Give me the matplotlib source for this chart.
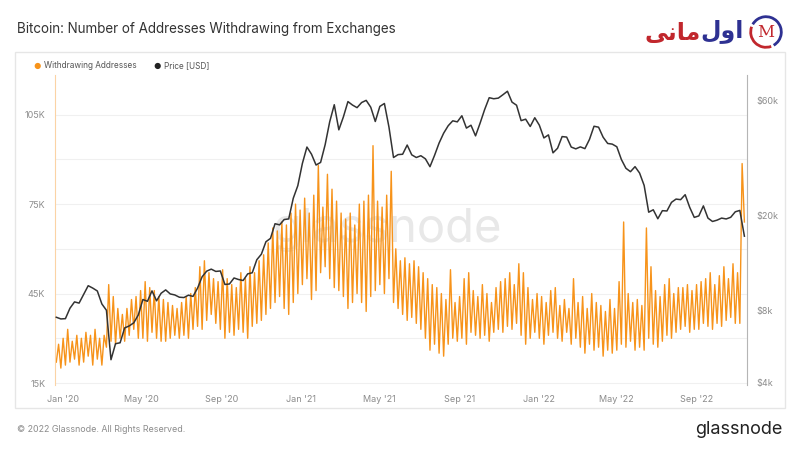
import matplotlib
matplotlib.use("Agg")
import matplotlib.pyplot as plt
import matplotlib.dates as mdates
import matplotlib.patches as patches
import numpy as np
import pandas as pd

# withdrawing addresses, in thousands: Sunday troughs and mid-week peaks
lows = [
    22, 20, 21, 22, 23, 21, 22, 24, 21, 23, 21, 27, 29, 28, 30, 29, 31, 33, 30,
    30, 29, 32, 30, 29, 29, 30, 31, 30, 31, 30, 33, 34, 33, 36, 38, 35, 33,
    30, 32, 31, 33, 32, 30, 34, 35, 36, 38, 40, 42, 44, 40, 38, 42, 45,
    48, 50, 43, 46, 52, 54, 50, 47, 46, 44, 40, 42, 45, 42, 39, 44, 46,
    48, 45, 50, 42, 40, 38, 36, 37, 35, 33, 30, 26, 28, 25, 24, 28, 30, 29,
    30, 28, 32, 31, 30, 31, 29, 32, 33, 32, 34, 33, 35, 31, 28, 30, 32,
    30, 28, 31, 32, 30, 29, 32, 28, 30, 27, 25, 28, 26, 27, 24, 26, 25,
    26, 28, 27, 29, 26, 27, 26, 30, 28, 27, 29, 31, 30, 32, 33, 34, 32, 33,
    33, 35, 34, 33, 35, 34, 36, 37, 35, 35, 69,
]
highs = [
    28, 30, 33, 29, 31, 30, 32, 31, 33, 30, 31, 48, 44, 40, 38, 40, 43, 44, 46,
    49, 47, 46, 44, 43, 42, 41, 40, 42, 44, 45, 47, 54, 56, 52, 50, 49, 53,
    50, 48, 47, 52, 50, 54, 52, 56, 58, 62, 67, 66, 69, 68, 72, 75, 73,
    77, 72, 78, 88, 74, 85, 80, 76, 72, 70, 72, 68, 75, 76, 78, 94.6, 76,
    74, 78, 86, 60, 56, 57, 55, 56, 54, 52, 50, 48, 47, 45, 43, 53, 42, 44,
    50, 52, 46, 44, 48, 45, 42, 47, 49, 50, 52, 48, 55, 52, 47, 43, 45,
    44, 42, 46, 47, 41, 43, 40, 50, 42, 44, 40, 45, 42, 41, 39, 43, 40,
    49, 69, 45, 42, 43, 41, 67, 54, 46, 44, 48, 50, 45, 47, 47, 48, 46, 48,
    49, 50, 52, 48, 51, 54, 50, 55, 52, 88.6,
]

# weekly BTC price (USD), Sundays from 2019-12-22
price = [
    7510, 7390,
    7410, 8190, 8700, 8600, 9340, 10160, 9930, 9660, 8530, 8030, 5000, 5830,
    5880, 6780, 6910, 7120, 7680, 8900, 8750, 9670, 8790, 9450, 9760, 9390,
    9300, 9100, 9070, 9280, 9170, 9930, 11070, 11680, 11910, 11650, 11700,
    10280, 10330, 10940, 10780, 10680, 11380, 11500, 13030, 13740, 15480,
    15990, 18400, 18200, 19150, 19270, 23480, 26500,
    32780, 38360, 35830, 32290, 33110, 39260, 48900, 57540, 45240, 51200,
    59300, 57350, 55950, 58760, 60000, 56200, 49000, 56620, 58230, 46450,
    34700, 35680, 35800, 39100, 35600, 34700, 35300, 34260, 31780, 35400,
    39850, 43800, 47050, 49320, 48830, 51770, 46000, 47280, 42700, 48230,
    54960, 61540, 60930, 61300, 63300, 65470, 59000, 57270, 49400, 50100,
    46700, 50800,
    47300, 41860, 43100, 36280, 37920, 42410, 42200, 38350, 37700, 38420,
    37780, 41260, 46820, 46400, 42150, 39700, 39450, 38470, 34060, 31300,
    30290, 31790, 29900, 26560, 20550, 21030, 19300, 20850, 20790, 22580,
    23300, 23170, 24300, 21520, 19550, 19830, 21830, 19420, 18800, 19040,
    19420, 19260, 19570, 20630, 20900, 16330,
]

left_ticks = [15000, 45000, 75000, 105000]
left_labels = ["15K", "45K", "75K", "105K"]
right_ticks = [4000, 8000, 20000, 60000]
right_labels = ["$4k", "$8k", "$20k", "$60k"]

ORANGE = "#f7931a"
DARK = "#333333"
GREY = "#8c8c8c"

addr = np.empty(len(lows) + len(highs))
addr[0::2] = lows
addr[1::2] = highs
addr = addr * 1000
addr_dates = pd.date_range("2019-12-22", periods=len(addr), freq="84h")
price_dates = pd.date_range("2019-12-22", periods=len(price), freq="7D")

plt.rcParams["font.family"] = ["Inter", "DejaVu Sans"]

fig = plt.figure(figsize=(8, 4.5), dpi=100)
fig.patch.set_facecolor("white")

# panel frame
fig.add_artist(patches.Rectangle((15 / 800, 1 - 408 / 450), 770 / 800, 356 / 450,
                                 transform=fig.transFigure, fill=False,
                                 edgecolor="#e6e6e6", linewidth=1))

ax = fig.add_axes([55 / 800, 1 - 385 / 450, 692 / 800, 310 / 450])
ax.plot(addr_dates, addr, color=ORANGE, linewidth=1.0, zorder=2)
ax.set_ylim(14330, 118300)
ax.set_yticks(left_ticks)
ax.set_yticklabels(left_labels)
ax.set_yticks([30000, 60000, 90000], minor=True)
ax.grid(axis="y", which="both", color="#f0f0f0", linewidth=0.8)
ax.set_axisbelow(True)
ax.set_xlim(pd.Timestamp("2019-12-20"), pd.Timestamp("2022-11-17"))
ax.xaxis.set_major_locator(mdates.MonthLocator(bymonth=[1, 5, 9]))
ax.xaxis.set_major_formatter(mdates.DateFormatter("%b '%y"))
ax.tick_params(axis="both", which="both", length=0, labelsize=6.5, labelcolor=GREY)
ax.tick_params(axis="y", pad=7)
ax.tick_params(axis="x", pad=7)
for s in ["top", "right", "bottom"]:
    ax.spines[s].set_visible(False)
ax.spines["left"].set_color("#fbd3a5")

ax.text(387 / 800, 1 - 230 / 450, "glassnode", transform=fig.transFigure,
        fontsize=34, color="#e8e8e8", ha="center", va="center", zorder=0)

ax2 = ax.twinx()
ax2.plot(price_dates, price, color=DARK, linewidth=1.1)
ax2.set_yscale("log")
ax2.set_ylim(3924, 76500)
ax2.set_yticks(right_ticks)
ax2.set_yticklabels(right_labels)
ax2.yaxis.set_minor_locator(matplotlib.ticker.NullLocator())
ax2.tick_params(axis="y", which="both", length=0, labelsize=6.5, labelcolor=GREY, pad=7)
for s in ["top", "left", "bottom"]:
    ax2.spines[s].set_visible(False)
ax2.spines["right"].set_color("#b5b5b5")

# title, legend, footer
fig.text(17 / 800, 1 - 29 / 450, "Bitcoin: Number of Addresses Withdrawing from Exchanges",
         fontsize=9.7, color=DARK, va="center")
fig.text(37 / 800, 1 - 66 / 450, "\u25cf", fontsize=6, color=ORANGE, ha="center", va="center")
fig.text(44 / 800, 1 - 66 / 450, "Withdrawing Addresses", fontsize=5.9, color="#555555", va="center")
fig.text(157 / 800, 1 - 66 / 450, "\u25cf", fontsize=6, color="#222222", ha="center", va="center")
fig.text(164 / 800, 1 - 66 / 450, "Price [USD]", fontsize=5.9, color="#555555", va="center")
fig.text(17 / 800, 1 - 430 / 450, "\u00a9 2022 Glassnode. All Rights Reserved.",
         fontsize=6.4, color=GREY, va="center")
fig.text(783 / 800, 1 - 429 / 450, "glassnode", fontsize=13, color="#222222",
         ha="right", va="center")

# site logo (top right): red and blue words, circle with M
fig.text(701 / 800, 1 - 33 / 450, "\ufbfd\ufee7\ufe8e\ufee3", family=["DejaVu Sans"],
         fontsize=17, fontweight="bold", color="#c1272d", ha="right", va="center")
fig.text(744 / 800, 1 - 31 / 450, "\ufedd\ufeed\ufe8d", family=["DejaVu Sans"],
         fontsize=17, fontweight="bold", color="#2e3192", ha="right", va="center")
lg = fig.add_axes([748 / 800, 1 - 50 / 450, 36 / 800, 36 / 450])
lg.set_xlim(-1, 1)
lg.set_ylim(-1, 1)
lg.axis("off")
lg.add_patch(patches.Arc((0, 0), 1.7, 1.7, theta1=-60, theta2=150, color="#2e3192", linewidth=2))
lg.add_patch(patches.Arc((0, 0), 1.7, 1.7, theta1=160, theta2=290, color="#c1272d", linewidth=2))
lg.text(0, -0.05, "M", family=["DejaVu Serif"], fontsize=12, color="#c1272d",
        ha="center", va="center")

fig.savefig("out.png", dpi=100, facecolor="white")
